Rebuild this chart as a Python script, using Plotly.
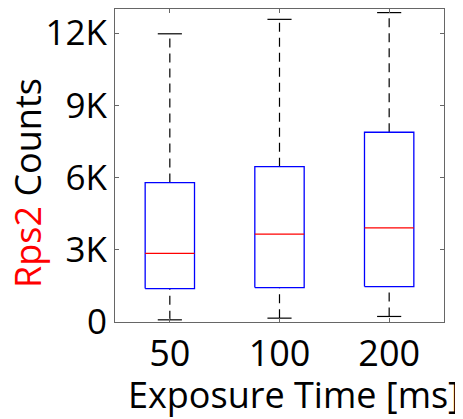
import plotly.graph_objects as go

categories = ["50", "100", "200"]
q1 = [1390, 1430, 1470]
median = [2850, 3650, 3910]
q3 = [5790, 6450, 7880]
lower = [90, 160, 230]
upper = [11970, 12570, 12850]
ytick_vals = [0, 3000, 6000, 9000, 12000]
ytick_text = ["0", "3K", "6K", "9K", "12K"]

positions = [1, 2, 3]
box_w = 0.45
cap_w = 0.22

FONT = "Open Sans"
FS = 36
TFS = 35
fig = go.Figure()

for i, p in enumerate(positions):
    # whiskers
    fig.add_trace(go.Scatter(x=[p, p], y=[q3[i], upper[i]], mode="lines",
                             line=dict(color="black", width=1.2, dash="9px,6px"),
                             showlegend=False, hoverinfo="skip"))
    fig.add_trace(go.Scatter(x=[p, p], y=[lower[i], q1[i]], mode="lines",
                             line=dict(color="black", width=1.2, dash="9px,6px"),
                             showlegend=False, hoverinfo="skip"))
    # caps
    for v in (upper[i], lower[i]):
        fig.add_trace(go.Scatter(x=[p - cap_w / 2, p + cap_w / 2], y=[v, v], mode="lines",
                                 line=dict(color="black", width=1.2),
                                 showlegend=False, hoverinfo="skip"))
    # box
    x0, x1 = p - box_w / 2, p + box_w / 2
    fig.add_trace(go.Scatter(x=[x0, x1, x1, x0, x0],
                             y=[q1[i], q1[i], q3[i], q3[i], q1[i]],
                             mode="lines", line=dict(color="#0000ff", width=1.3),
                             showlegend=False, hoverinfo="skip"))
    # median
    fig.add_trace(go.Scatter(x=[x0, x1], y=[median[i], median[i]],
                             mode="lines", line=dict(color="#ff0000", width=1.3),
                             showlegend=False, hoverinfo="skip"))

fig.update_layout(
    width=455, height=411,
    margin=dict(l=107, r=19, t=1, b=97, autoexpand=False),
    paper_bgcolor="white", plot_bgcolor="white",
    font=dict(family=FONT, size=FS, color="black"),
    xaxis=dict(range=[0.5, 3.5], tickvals=positions, ticktext=categories,
               showgrid=False, zeroline=False, showline=True, linecolor="#666",
               linewidth=1.2, mirror="ticks", ticks="inside", ticklen=4, tickcolor="#666",
               tickfont=dict(size=FS), automargin=False),
    yaxis=dict(range=[0, 13000], tickvals=ytick_vals, ticktext=ytick_text,
               showgrid=False, zeroline=False, showline=True, linecolor="#666",
               linewidth=1.2, mirror="ticks", ticks="inside", ticklen=4, tickcolor="#666",
               tickfont=dict(size=TFS), automargin=False),
    annotations=[
        dict(text='<span style="color:#ff0000">Rps2</span> Counts',
             xref="paper", yref="paper", x=-0.266, y=0.446,
             xanchor="center", yanchor="middle", textangle=-90,
             showarrow=False, font=dict(size=FS, color="black")),
        dict(text="Exposure Time [ms]",
             xref="paper", yref="paper", x=0.544, y=0, yshift=-46,
             xanchor="center", yanchor="top",
             showarrow=False, font=dict(size=FS, color="black")),
    ],
)

fig.write_html("out.html")
